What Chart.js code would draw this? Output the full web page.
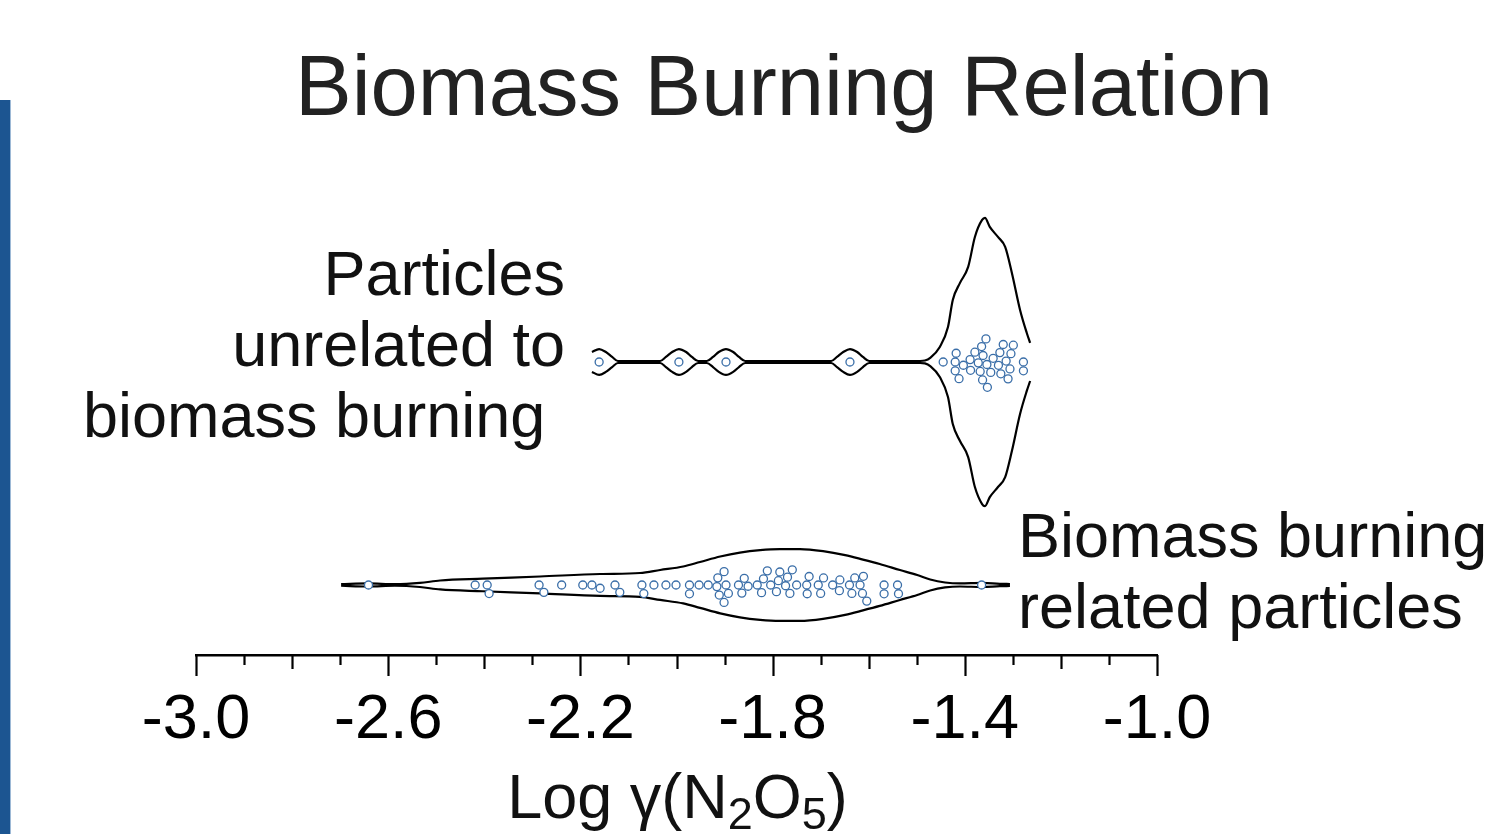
<!DOCTYPE html>
<html>
<head>
<meta charset="utf-8">
<title>Biomass Burning Relation</title>
<script src="https://cdn.jsdelivr.net/npm/chart.js@4/dist/chart.umd.min.js"></script>
<style>
  html, body { margin: 0; padding: 0; background: #fff; }
  #wrap { position: relative; width: 1504px; height: 834px; }
</style>
</head>
<body>
<div id="wrap"><canvas id="chart"></canvas></div>
<script>
'use strict';

// two groups, drawn at y = 1 (top) and y = 0 (bottom)
var categories = ['Particles unrelated to biomass burning', 'Biomass burning related particles'];
var categoryLines = [['Particles', 'unrelated to', 'biomass burning'], ['Biomass burning', 'related particles']];

// Log gamma(N2O5) of each particle
var unrelatedValues = [-2.161, -1.995, -1.897, -1.639, -1.445, -1.420, -1.418, -1.420, -1.412, -1.403,
    -1.389, -1.388, -1.379, -1.372, -1.368, -1.365, -1.363, -1.362, -1.356, -1.354, -1.353, -1.346,
    -1.341, -1.330, -1.327, -1.325, -1.320, -1.314, -1.310, -1.306, -1.304, -1.299, -1.278, -1.278];
var relatedValues = [-2.641, -2.419, -2.394, -2.390, -2.286, -2.276, -2.239, -2.195, -2.176, -2.159,
    -2.128, -2.118, -2.072, -2.068, -2.047, -2.022, -2.001, -1.973, -1.973, -1.953, -1.934, -1.916,
    -1.914, -1.911, -1.901, -1.901, -1.897, -1.892, -1.871, -1.864, -1.859, -1.851, -1.832, -1.823,
    -1.819, -1.811, -1.804, -1.792, -1.788, -1.785, -1.773, -1.769, -1.764, -1.759, -1.750, -1.729,
    -1.728, -1.724, -1.705, -1.700, -1.694, -1.675, -1.661, -1.660, -1.640, -1.635, -1.629, -1.618,
    -1.613, -1.611, -1.604, -1.568, -1.568, -1.540, -1.538, -1.365];

// violin outlines: position and relative density (peak = 1)
var unrelatedOutlineX = [-2.176, -2.161, -2.147, -2.134, -2.122, -2.034, -2.022, -2.009, -1.995, -1.980,
    -1.968, -1.955, -1.937, -1.924, -1.912, -1.897, -1.882, -1.870, -1.857, -1.678, -1.666, -1.653,
    -1.639, -1.624, -1.612, -1.599, -1.493, -1.483, -1.472, -1.452, -1.435, -1.425, -1.410, -1.393,
    -1.379, -1.364, -1.358, -1.348, -1.331, -1.316, -1.302, -1.285, -1.271, -1.264];
var unrelatedOutlineDensity = [0.069, 0.090, 0.069, 0.035, 0.007, 0.007, 0.035, 0.069, 0.090, 0.069,
    0.035, 0.007, 0.007, 0.035, 0.069, 0.090, 0.069, 0.035, 0.007, 0.007, 0.035, 0.069,
    0.090, 0.069, 0.035, 0.007, 0.007, 0.010, 0.028, 0.104, 0.243, 0.431, 0.549, 0.660,
    0.868, 0.986, 1.000, 0.938, 0.868, 0.799, 0.618, 0.361, 0.201, 0.132];
var relatedOutlineX = [-2.698, -2.642, -2.586, -2.534, -2.492, -2.403, -2.284, -2.159, -2.076, -2.034,
    -1.986, -1.951, -1.909, -1.868, -1.826, -1.785, -1.743, -1.695, -1.649, -1.612, -1.577, -1.535,
    -1.499, -1.472, -1.441, -1.410, -1.364, -1.327, -1.306];
var relatedOutlineDensity = [0.022, 0.042, 0.022, 0.056, 0.125, 0.175, 0.236, 0.306, 0.333, 0.417,
    0.514, 0.639, 0.792, 0.903, 0.972, 1.000, 1.000, 0.944, 0.833, 0.708, 0.583, 0.417,
    0.278, 0.153, 0.069, 0.042, 0.056, 0.033, 0.028];

// x axis
var xMin = -3.0;
var xMax = -1.0;
var xStep = 0.1;
var tickLabels = ['-3.0', '-2.6', '-2.2', '-1.8', '-1.4', '-1.0'];

// styling
var FONT = '"Liberation Sans", Arial, sans-serif';
var INK = '#111111';
var POINT_BLUE = '#3a6ea8';
var unrelatedHalf = 0.646;   // widest half-width of the top violin, y units
var relatedHalf = 0.161;
var swarmDiameter = 8.8;     // px

function outline(xs, dens, center, half, sign) {
    return xs.map(function(x, i) {
        return { x: x, y: center + sign * dens[i] * half };
    });
}

function points(values, center) {
    return values.map(function(v) { return { x: v, y: center }; });
}

var violinStyle = {
    showLine: true,
    pointRadius: 0,
    borderColor: '#000',
    borderWidth: 2.2,
    cubicInterpolationMode: 'monotone',
    fill: false,
    order: 1
};

var pointStyle = {
    showLine: false,
    pointRadius: 4,
    pointBorderWidth: 1.3,
    pointBorderColor: POINT_BLUE,
    pointBackgroundColor: '#fff',
    order: 0
};

function ds(label, data, style) {
    return Object.assign({ label: label, data: data }, style);
}

// left blue bar and the texts that live outside the chart area
var decorPlugin = {
    id: 'decor',
    beforeDraw: function(chart) {
        var c = chart.ctx;
        c.save();
        c.fillStyle = '#1c5591';
        c.fillRect(0, 100, 10, 734);
        c.fillStyle = '#9db9d6';
        c.fillRect(10, 100, 1, 734);
        c.restore();
    },
    afterDraw: function(chart) {
        var c = chart.ctx;
        var xs = chart.scales.x;
        var bottom = chart.chartArea.bottom;
        c.save();

        // tick marks: long every 0.4, medium every 0.2, short every 0.1
        c.strokeStyle = '#000';
        c.lineWidth = 2.2;
        xs.ticks.forEach(function(t, i) {
            var px = Math.round(xs.getPixelForTick(i)) + 0.5;
            var len = i % 4 === 0 ? 21 : (i % 2 === 0 ? 14 : 10);
            c.beginPath();
            c.moveTo(px, bottom);
            c.lineTo(px, bottom + len);
            c.stroke();
        });

        c.fillStyle = '#222';
        c.textBaseline = 'alphabetic';
        c.textAlign = 'center';
        c.font = '85px ' + FONT;
        c.fillText('Biomass Burning Relation', 784, 115);

        c.fillStyle = INK;
        c.font = '63px ' + FONT;
        c.textAlign = 'right';
        c.fillText(categoryLines[0][0], 565, 295);
        c.fillText(categoryLines[0][1], 565, 366);
        c.textAlign = 'left';
        c.fillText(categoryLines[0][2], 83, 437);
        c.fillText(categoryLines[1][0], 1018, 557);
        c.fillText(categoryLines[1][1], 1018, 628);

        // axis title with subscripts
        var parts = [['Log γ(N', 63, 0], ['2', 45, 11], ['O', 63, 0], ['5', 45, 11], [')', 63, 0]];
        var total = 0;
        parts.forEach(function(p) {
            c.font = p[1] + 'px ' + FONT;
            p.push(c.measureText(p[0]).width);
            total += p[3];
        });
        var x = (chart.chartArea.left + chart.chartArea.right) / 2 - total / 2 + 1;
        parts.forEach(function(p) {
            c.font = p[1] + 'px ' + FONT;
            c.fillText(p[0], x, 818 + p[2]);
            x += p[3];
        });
        c.restore();
    }
};

// beeswarm: place points in order along x, each as near the centre line as it can go
function swarm(chart, dsIndex, values, center) {
    var xs = chart.scales.x;
    var ys = chart.scales.y;
    var pxPerUnit = Math.abs(ys.getPixelForValue(0) - ys.getPixelForValue(1));
    var d = swarmDiameter;
    var order = values.map(function(v, i) { return i; }).sort(function(a, b) { return values[a] - values[b]; });
    var placed = [];
    var data = chart.data.datasets[dsIndex].data;
    order.forEach(function(i) {
        var px = xs.getPixelForValue(values[i]);
        var cands = [0];
        placed.forEach(function(p) {
            var dx = px - p.x;
            if (Math.abs(dx) < d) {
                var dy = Math.sqrt(d * d - dx * dx);
                cands.push(p.y + dy, p.y - dy);
            }
        });
        cands.sort(function(a, b) { return Math.abs(a) - Math.abs(b); });
        var best = cands.find(function(cy) {
            return placed.every(function(p) {
                return Math.hypot(px - p.x, cy - p.y) >= d - 0.01;
            });
        });
        placed.push({ x: px, y: best });
        data[i].y = center - best / pxPerUnit;
    });
}

var ctx = document.getElementById('chart').getContext('2d');
var chart = new Chart(ctx, {
    type: 'scatter',
    data: {
        datasets: [
            ds(categories[0], points(unrelatedValues, 1), pointStyle),
            ds(categories[1], points(relatedValues, 0), pointStyle),
            ds('unrelated upper', outline(unrelatedOutlineX, unrelatedOutlineDensity, 1, unrelatedHalf, 1), violinStyle),
            ds('unrelated lower', outline(unrelatedOutlineX, unrelatedOutlineDensity, 1, unrelatedHalf, -1), violinStyle),
            ds('related upper', outline(relatedOutlineX, relatedOutlineDensity, 0, relatedHalf, 1), violinStyle),
            ds('related lower', outline(relatedOutlineX, relatedOutlineDensity, 0, relatedHalf, -1), violinStyle)
        ]
    },
    options: {
        responsive: true,
        maintainAspectRatio: false,
        animation: false,
        layout: { padding: { left: 196, right: 347, top: 139, bottom: 0 } },
        plugins: {
            legend: { display: false },
            tooltip: { enabled: false },
            title: { display: false }
        },
        scales: {
            x: {
                type: 'linear',
                min: xMin,
                max: xMax,
                afterFit: function(scale) { scale.height = 179; },
                grid: { drawOnChartArea: false, color: 'rgba(0,0,0,0)', tickLength: 21 },
                border: { display: true, color: '#000', width: 2.5 },
                ticks: {
                    stepSize: xStep,
                    autoSkip: false,
                    maxRotation: 0,
                    minRotation: 0,
                    padding: 7,
                    color: '#000',
                    font: { family: FONT, size: 63 },
                    callback: function(value, index) {
                        return index % 4 === 0 ? tickLabels[index / 4] : '';
                    }
                }
            },
            y: {
                type: 'linear',
                display: false,
                min: -0.314,
                max: 2.0
            }
        }
    },
    plugins: [decorPlugin]
});

swarm(chart, 0, unrelatedValues, 1);
swarm(chart, 1, relatedValues, 0);
chart.update('none');
</script>
</body>
</html>
